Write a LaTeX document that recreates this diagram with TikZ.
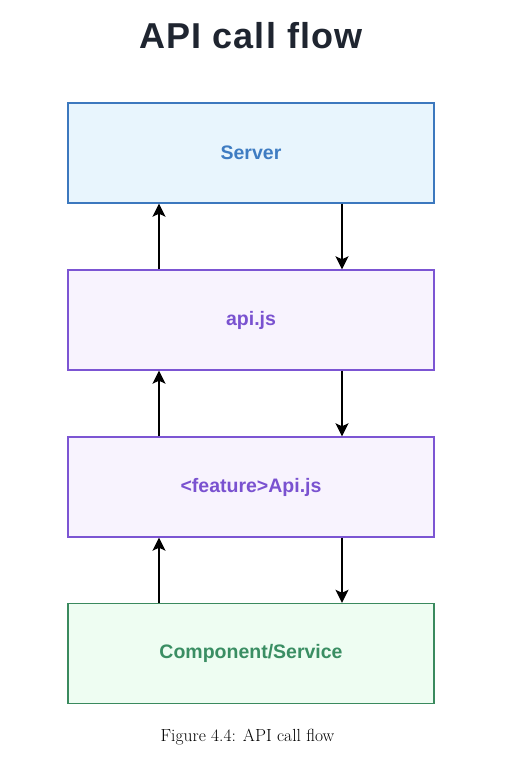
\documentclass[tikz,border=0pt]{standalone}
\usepackage{fontspec}
\setmainfont{Latin Modern Roman}
\newfontfamily\boxfont{Liberation Sans}
\newfontfamily\titlefont[LetterSpace=3]{Liberation Sans}
\usetikzlibrary{arrows.meta}
\definecolor{titlec}{HTML}{1F2530}
\definecolor{srvfill}{HTML}{E8F5FD}
\definecolor{srvline}{HTML}{3C78BE}
\definecolor{srvtext}{HTML}{3E7CC2}
\definecolor{apifill}{HTML}{F8F3FE}
\definecolor{apiline}{HTML}{7C55D3}
\definecolor{apitext}{HTML}{7A52D0}
\definecolor{cmpfill}{HTML}{EEFDF2}
\definecolor{cmpline}{HTML}{3A8A5E}
\definecolor{cmptext}{HTML}{3A8E63}
\tikzset{
  layerbox/.style={rectangle, minimum width=366pt, minimum height=100pt, line width=1.4pt, inner sep=0pt,
    font=\boxfont\bfseries\fontsize{19.5}{23}\selectfont},
  flow/.style={line width=1.5pt, -{Stealth[length=13pt,width=13pt,inset=3pt]}},
}
\begin{document}
\begin{tikzpicture}[x=1pt,y=-1pt]
\useasboundingbox (0,0) rectangle (531,783);
\node[font=\titlefont\bfseries\fontsize{36}{40}\selectfont, text=titlec] (title) at (251,36) {API call flow};
\node[layerbox, draw=srvline, fill=srvfill, text=srvtext] (server) at (251,153) {\raisebox{-1.5pt}{Server}};
\node[layerbox, draw=apiline, fill=apifill, text=apitext] (api) at (251,320) {\raisebox{-1.5pt}{api.js}};
\node[layerbox, draw=apiline, fill=apifill, text=apitext] (feat) at (251,487) {\raisebox{-1.5pt}{<feature>Api.js}};
\node[layerbox, draw=cmpline, fill=cmpfill, text=cmptext] (comp) at (251,653.5) {\raisebox{-1.5pt}{Component/Service}};
\draw[flow] ([xshift=-92pt]api.north) -- ([xshift=-92pt]server.south);
\draw[flow] ([xshift=91pt]server.south) -- ([xshift=91pt]api.north);
\draw[flow] ([xshift=-92pt]feat.north) -- ([xshift=-92pt]api.south);
\draw[flow] ([xshift=91pt]api.south) -- ([xshift=91pt]feat.north);
\draw[flow] ([xshift=-92pt]comp.north) -- ([xshift=-92pt]feat.south);
\draw[flow] ([xshift=91pt]feat.south) -- ([xshift=91pt]comp.north);
\node[font=\fontsize{17.5}{20}\selectfont] (cap) at (247.5,737) {Figure 4.4: API call flow};
\end{tikzpicture}
\end{document}
